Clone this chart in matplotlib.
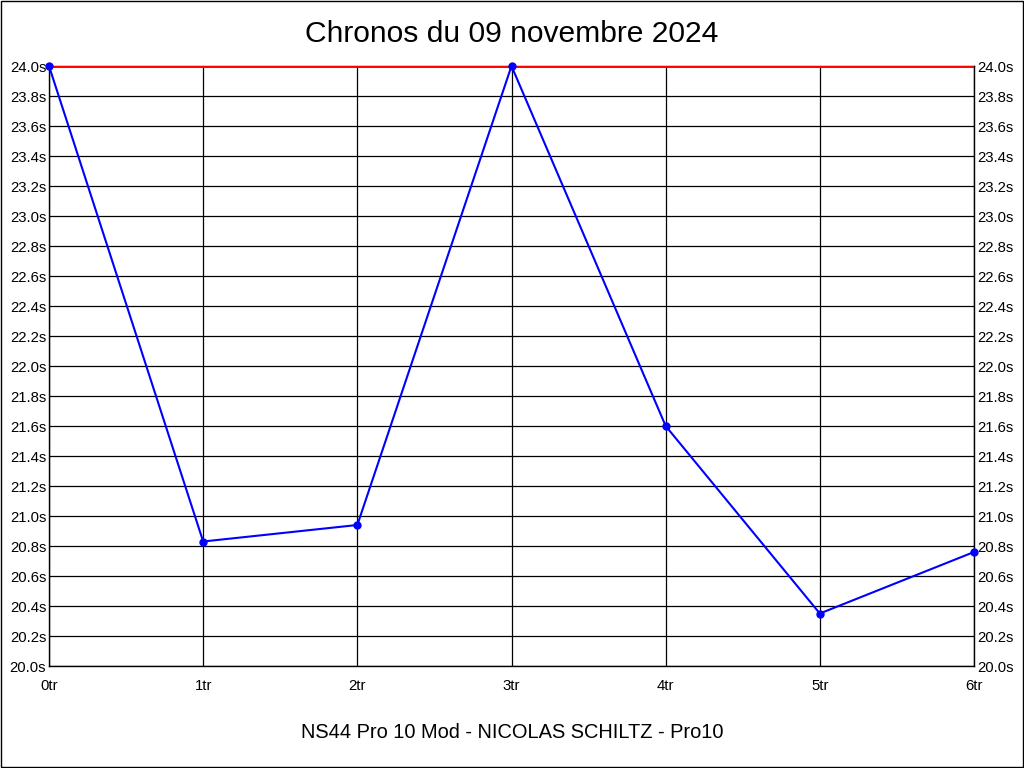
import numpy as np
import matplotlib
matplotlib.use("Agg")
import matplotlib.pyplot as plt

plt.rcParams['font.family'] = ['Liberation Sans', 'DejaVu Sans']

laps = ['0tr', '1tr', '2tr', '3tr', '4tr', '5tr', '6tr']
times = [24.0, 20.83, 20.94, 24.0, 21.6, 20.35, 20.76]
ref_time = 24.0
yticks = np.arange(20.0, 24.01, 0.2)

fig = plt.figure(figsize=(10.24, 7.68), dpi=100)
# outer black frame
fig.patches.append(plt.Rectangle((0.0005, 0.0007), 0.999, 0.9986, transform=fig.transFigure,
                                 fill=False, edgecolor='black', linewidth=1))
ax = fig.add_axes([49 / 1024, 102 / 768, 925 / 1024, 600 / 768])

x = np.arange(len(laps))
ax.axhline(ref_time, color='#ff0000', linewidth=2.8, zorder=3)
ax.plot(x, times, color='#0000ff', linewidth=1.5, marker='o', markersize=5, zorder=4, clip_on=False)

ax.set_xlim(0, len(laps) - 1)
ax.set_ylim(20.0, 24.0)
ax.set_xticks(x)
ax.set_xticklabels(laps)
ax.set_yticks(yticks)
ax.set_yticklabels(['%.1fs' % v for v in yticks])
ax.grid(True, color='black', linewidth=0.9)
ax.tick_params(length=0, labelsize=10.7, pad=2, right=True, labelright=True)
ax.tick_params(axis='x', pad=9)
for s in ax.spines.values():
    s.set_linewidth(1)

fig.text(0.5, 1 - 34 / 768, 'Chronos du 09 novembre 2024', ha='center', va='center', fontsize=21.6)
fig.text(0.5, 1 - 733 / 768, 'NS44 Pro 10 Mod - NICOLAS SCHILTZ - Pro10', ha='center', va='center', fontsize=14.4)

fig.savefig('out.png', dpi=100)
